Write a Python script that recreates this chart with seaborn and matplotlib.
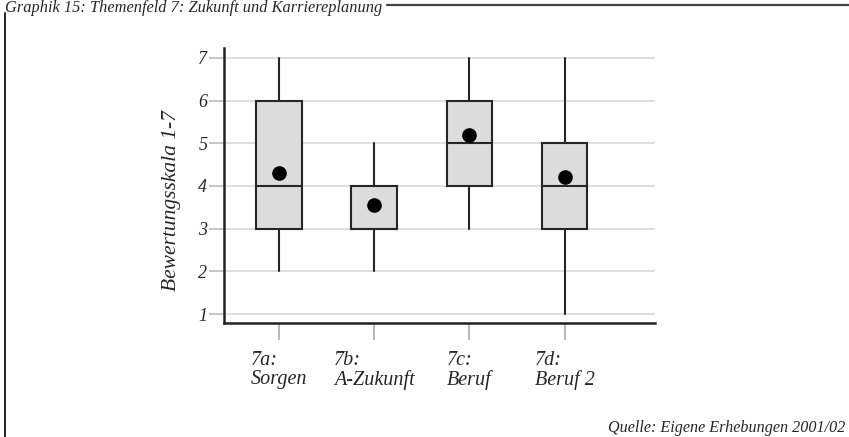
import matplotlib
matplotlib.use("Agg")
import matplotlib.pyplot as plt
from matplotlib.lines import Line2D
import seaborn as sns

# === Daten ===
categories = ["7a:\nSorgen", "7b:\nA-Zukunft", "7c:\nBeruf", "7d:\nBeruf 2"]
whisker_low = [2, 2, 3, 1]
q1 = [3, 3, 4, 3]
medians = [4, 3, 5, 4]
q3 = [6, 4, 6, 5]
whisker_high = [7, 5, 7, 7]
means = [4.3, 3.55, 5.2, 4.2]
y_ticks = [1, 2, 3, 4, 5, 6, 7]

title = "Graphik 15: Themenfeld 7: Zukunft und Karriereplanung"
source = "Quelle: Eigene Erhebungen 2001/02"

# === Style ===
sns.set_theme(style="white")
plt.rcParams["font.family"] = ["Liberation Serif", "DejaVu Serif"]
plt.rcParams["font.style"] = "italic"

fig = plt.figure(figsize=(8.49, 4.37), dpi=100)
ax = fig.add_axes([224 / 849, 114 / 437, 431 / 849, 275 / 437])

# Mittelwerte (seaborn, kategoriale Achse)
sns.pointplot(x=categories, y=means, color="black", linestyle="none",
              markers="o", markersize=8.5, errorbar=None, zorder=5, ax=ax)

# Boxplots aus den Kennwerten
stats = [
    dict(label=c, whislo=lo, q1=a, med=m, q3=b, whishi=hi, fliers=[])
    for c, lo, a, m, b, hi in zip(categories, whisker_low, q1, medians, q3, whisker_high)
]
edge = "#262626"
ax.bxp(stats, positions=list(range(len(categories))), widths=0.48,
       patch_artist=True, showcaps=False, showfliers=False, manage_ticks=False,
       boxprops=dict(facecolor="#dcdcdc", edgecolor=edge, linewidth=1.5),
       medianprops=dict(color=edge, linewidth=1.5),
       whiskerprops=dict(color=edge, linewidth=1.5))

# Achsen
ax.set_xlim(-0.58, 3.95)
ax.set_ylim(0.79, 7.23)
ax.set_yticks(y_ticks)
ax.set_yticklabels([str(t) for t in y_ticks], fontsize=13)
ax.set_xticks(range(len(categories)))
ax.set_xticklabels(categories, fontsize=14.5, ha="center", multialignment="left",
                   linespacing=1.0)
ax.set_xlabel("")
ax.set_ylabel("Bewertungsskala 1-7", fontsize=15.5)
ax.yaxis.set_label_coords(-0.100, 0.447)

ax.yaxis.grid(True, color="#d9d9d9", linewidth=1.2)
ax.xaxis.grid(False)
ax.set_axisbelow(True)

for side in ["top", "right"]:
    ax.spines[side].set_visible(False)
for side in ["left", "bottom"]:
    ax.spines[side].set_color("#222222")
    ax.spines[side].set_linewidth(1.8)

ax.tick_params(axis="y", left=True, length=11, width=1.2, color="#bbbbbb", pad=1)
ax.tick_params(axis="x", bottom=True, length=12, width=1.2, color="#aaaaaa", pad=8)

# Rahmen / Titel / Quelle
fig.text(0.006, 1 - 12 / 437, title, fontsize=11.8, va="baseline", ha="left")
fig.add_artist(Line2D([387 / 849, 1.0], [1 - 5 / 437] * 2, color="#444444", linewidth=1.6))
fig.add_artist(Line2D([5 / 849] * 2, [0.0, 1 - 13 / 437], color="#111111", linewidth=1.3))
fig.text(845 / 849, 5 / 437, source, fontsize=11.6, va="baseline", ha="right")

fig.savefig("out.png", dpi=100)
